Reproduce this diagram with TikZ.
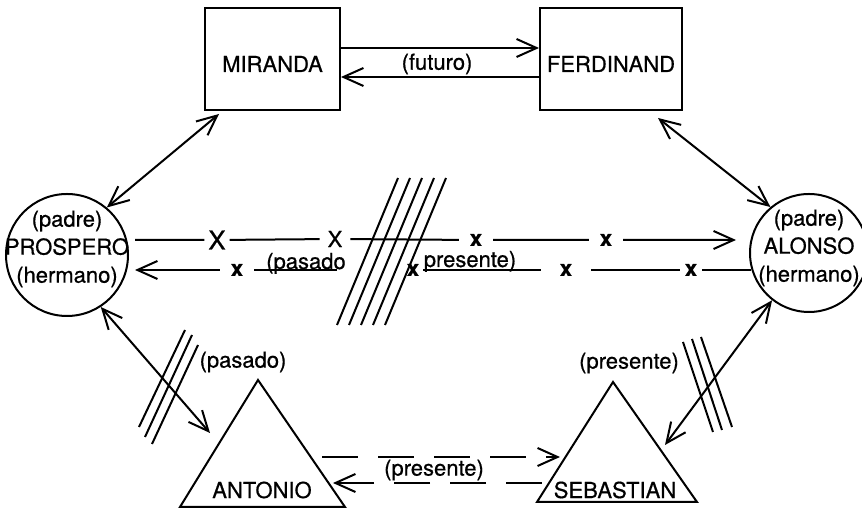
\documentclass[tikz,border=0pt]{standalone}
\usepackage{fontspec}
\setmainfont{TeX Gyre Heros}[FakeBold=0.6]
\usetikzlibrary{arrows.meta,positioning}

\begin{document}
\begin{tikzpicture}[
  x=1pt, y=1pt, line width=2pt,
  every node/.style={font=\fontsize{22}{28}\selectfont},
  box/.style={draw, minimum height=102pt, text height=26pt},
  person/.style={draw, circle, inner sep=0pt},
  crossA/.style={inner xsep=7pt, inner ysep=0pt},
  crossB/.style={inner xsep=10pt, inner ysep=0pt, font=\fontsize{22}{24}\selectfont\bfseries},
  arr/.style={-{Straight Barb[length=20pt,width=18pt]}},
  dbl/.style={{Straight Barb[length=20pt,width=18pt]}-{Straight Barb[length=20pt,width=18pt]}},
  longdash/.style={dash pattern=on 36pt off 20pt}
]
  \useasboundingbox (0,0) rectangle (862,510);

  % boxes and circles
  \node[box, minimum width=135pt]                      (miranda)   at (272.5,451) {MIRANDA};
  \node[box, minimum width=142pt, right=198pt of miranda] (ferdinand) {FERDINAND};
  \node[person, minimum size=122pt] (prospero) at (67,255) {};
  \node[person, minimum size=118pt] (alonso)   at (809,257) {};
  \node[align=center] (prosperotxt) at ([yshift=6pt]prospero.center) {(padre)\\PROSPERO\\(hermano)};
  \node[align=center] (alonsotxt)   at ([yshift=5pt]alonso.center)   {(padre)\\ALONSO\\(hermano)};

  % triangles
  \draw (180,3) -- (258,130) -- (345,3) -- cycle;
  \draw (537,8) -- (613,128) -- (697,8) -- cycle;
  \node (antonio)   at (262,20) {ANTONIO};
  \node (sebastian) at (615,20) {SEBASTIAN};
  \node (antlbl) at (243,148) {(pasado)};
  \node (seblbl) at (629,147) {(presente)};

  % futuro
  \draw[arr] ([yshift=11pt]miranda.east) -- ([yshift=11pt]ferdinand.west);
  \draw[arr] ([yshift=-18pt]ferdinand.west) -- ([yshift=-18pt]miranda.east);
  \node (futuro) at (437,446) {(futuro)};

  % pasado / presente lines
  \coordinate (topstart) at ([xshift=6pt,yshift=15pt]prospero.east);
  \coordinate (topend)   at ([xshift=-13pt,yshift=13pt]alonso.west);
  \node[crossA, font=\fontsize{26}{28}\selectfont, inner xsep=3pt] (xa1) at (217,270) {X};
  \node[crossA] (xa2) at (335,271) {X};
  \node[crossB] (xa3) at (476,270) {x};
  \node[crossB] (xa4) at (606,270) {x};
  \draw[arr] (topstart) -- (xa1) -- (xa2) -- (xa3) -- (xa4) -- (topend);

  \coordinate (botstart) at ([xshift=2pt,yshift=-17pt]alonso.west);
  \coordinate (botend)   at ([xshift=6pt,yshift=-15pt]prospero.east);
  \coordinate (pasgap)   at (337,240);
  \node[crossB, inner xsep=4pt] (xb1) at (691,240) {x};
  \node[crossB, inner xsep=18pt] (xb2) at (566,240) {x};
  \node[crossB, inner xsep=3pt] (xb3) at (413,240) {x};
  \node[crossB] (xb4) at (237,240) {x};
  \draw (botstart) -- (xb1) -- (xb2) -- (xb3);
  \draw[arr] (pasgap) -- (xb4) -- (botend);
  \node[anchor=base, inner sep=0pt] (pasado)   at (306,241) {(pasado};
  \node[anchor=base, inner sep=0pt] (presente) at (470,243) {presente)};

  \foreach \i in {0,...,4}
    \draw ({337+12*\i},185) -- ({398+12*\i},332);

  % brothers and family
  \coordinate (antL) at (210,77);
  \coordinate (sebR) at (665,65);
  \draw[dbl] ([xshift=15pt,yshift=-3pt]miranda.south west) -- (prospero.50);
  \draw[dbl] ([xshift=-25pt,yshift=-7pt]ferdinand.south east) -- (alonso.130);
  \draw[dbl] (prospero.-57) -- (antL);
  \draw[dbl] (alonso.-128) -- (sebR);
  \draw (139,83) -- (185,180);
  \draw (145,73) -- (192,175);
  \draw (152,66) -- (198,165);
  \draw (683,168) -- (713,78);
  \draw (692,171) -- (722,80);
  \draw (701,173) -- (732,83);

  % antonio <-> sebastian
  \coordinate (antR1) at (322,53);
  \coordinate (sebL1) at (560,53);
  \coordinate (sebL2) at (542,27);
  \coordinate (antR2) at (333,27);
  \draw[arr, longdash] (antR1) -- (sebL1);
  \draw[arr, longdash] (sebL2) -- (antR2);
  \node (presbot) at (434,40) {(presente)};
\end{tikzpicture}
\end{document}
